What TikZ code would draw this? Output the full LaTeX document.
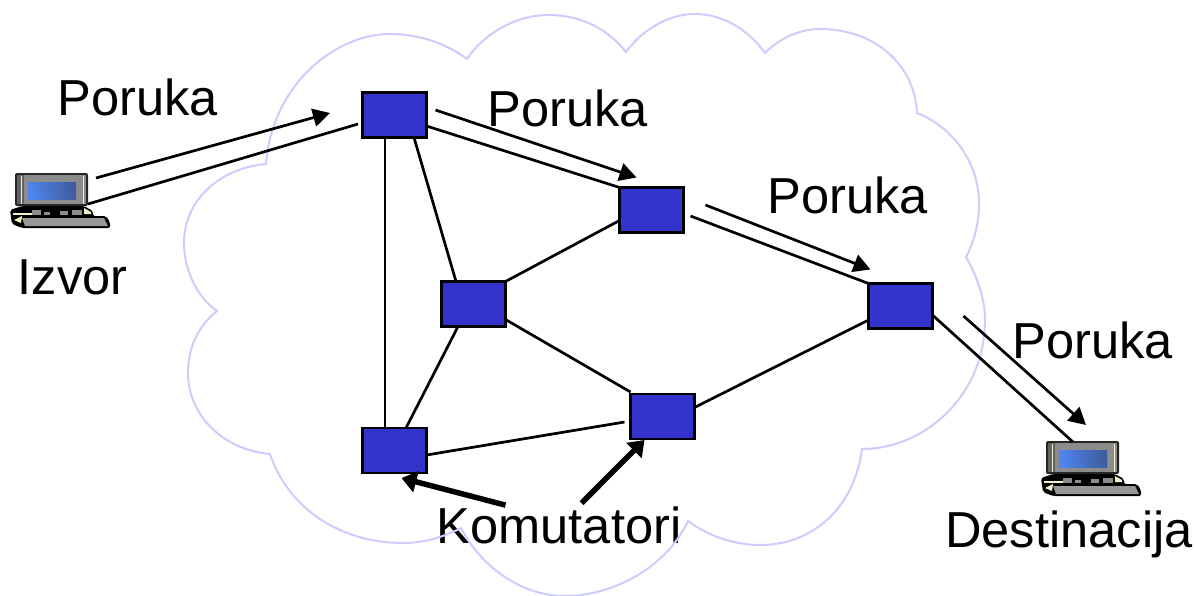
\documentclass[tikz,border=0pt]{standalone}
\usepackage{fontspec}
\setmainfont{Liberation Sans}
\usetikzlibrary{arrows.meta,calc}
\definecolor{swblue}{HTML}{3333CC}
\definecolor{cloudline}{HTML}{CCCCFF}
\definecolor{lapgray}{HTML}{8C8C8C}
\definecolor{lapcream}{HTML}{F5F2C8}
\definecolor{scrlight}{HTML}{4F86EE}
\definecolor{scrdark}{HTML}{3F5C9E}
\tikzset{
  switchbox/.style={draw=black,fill=swblue,line width=2.8pt,minimum width=64pt,minimum height=45pt,inner sep=0pt,outer sep=0pt},
  link/.style={draw=black,line width=2.7pt},
  msg/.style={draw=black,line width=2.7pt,-{Triangle[length=17pt,width=18pt]}},
  pointer/.style={draw=black,line width=5.5pt,-{Triangle[length=15pt,width=21pt]}},
  label/.style={inner sep=0pt,anchor=base west,font=\fontsize{50.6}{60}\selectfont},
  cloud/.style={draw=cloudline,line width=2pt,line join=miter},
  laptop/.pic={
    \fill[black!85,rounded corners=2pt] (15,173) rectangle (88,206);
    \fill[lapgray] (17,175) rectangle (86,204);
    \fill[lapgray!70!black] (17,175) rectangle (24,204);
    \draw[lapcream,line width=.9pt] (21,176) -- (21,204) (83,176) -- (83,204);
    \shade[left color=scrlight,right color=scrdark,shading angle=100] (28,182) rectangle (76,199);
    \fill[black,rounded corners=2pt] (10,210) -- (22,206) -- (84,206) -- (93,211) -- (93,216) -- (106,216) -- (110,222) -- (110,228) -- (22,228) -- (12,224) -- cycle;
    \fill[lapcream] (13,213) rectangle (32,215);
    \fill[lapcream] (14,220) -- (22,216) -- (21,223) -- cycle;
    \fill[lapcream] (84,208) -- (91,212) -- (91,214) -- (84,214) -- cycle;
    \fill[lapgray] (32,210) rectangle (41,215);
    \fill[lapgray] (44,212) rectangle (50,215);
    \fill[lapgray] (60,211) rectangle (68,215);
    \fill[lapgray] (72,210) rectangle (82,215);
    \fill[lapgray!90!white] (22,218) -- (104,218) -- (108,226) -- (25,226) -- cycle;
  }
}
\begin{document}
\begin{tikzpicture}[x=1pt,y=-1pt]
\useasboundingbox (0,0) rectangle (1195,595);
% label under the cloud
\node[label] (komut) at (436.5,543) {Komutatori};
% cloud
\draw[cloud] (266,164)
  .. controls (272,85) and (335,34) .. (390,34) .. controls (420,34) and (447,44) .. (467,59)
  .. controls (485,32) and (518,15) .. (548,15) .. controls (585,15) and (610,32) .. (626,52)
  .. controls (642,30) and (668,14) .. (695,14) .. controls (725,14) and (750,32) .. (765,53)
  .. controls (780,38) and (800,29) .. (820,29) .. controls (875,29) and (915,65) .. (917,113)
  .. controls (955,128) and (979,165) .. (979,203) .. controls (979,222) and (975,240) .. (966,257)
  .. controls (978,278) and (985,300) .. (985,320) .. controls (985,395) and (925,449) .. (862,449)
  .. controls (855,505) and (815,545) .. (760,545) .. controls (735,545) and (708,536) .. (688,521)
  .. controls (665,570) and (610,596) .. (565,596) .. controls (520,596) and (480,565) .. (461,528)
  .. controls (442,538) and (422,543) .. (403,543) .. controls (340,543) and (288,508) .. (270,454)
  .. controls (223,450) and (188,415) .. (188,373) .. controls (188,348) and (198,326) .. (217,311)
  .. controls (197,297) and (184,270) .. (184,243) .. controls (184,200) and (220,168) .. (266,164) -- cycle;
% switches
\node[switchbox] (s1) at (394.5,115) {};
\node[switchbox] (s2) at (651.5,210) {};
\node[switchbox] (s3) at (473.5,304) {};
\node[switchbox] (s4) at (394.5,450.5) {};
\node[switchbox] (s5) at (662.5,416.5) {};
\node[switchbox] (s6) at (900.5,306) {};
% laptops
\pic at (0,0) {laptop};
\pic at (1031,268) {laptop};
% free ends
\coordinate (srcA) at (96,178);
\coordinate (srcB) at (88,204);
\coordinate (dstA) at (1086,425);
\coordinate (dstB) at (1073,442);
% links
\draw[link] ($(s1.south)+(-9.5,0)$) -- ($(s4.north)+(-9.5,0)$);
\draw[link] ($(s1.south)+(19.5,0)$) -- ($(s3.north)+(-17.5,0)$);
\draw[link] (s3.north east) -- ($(s2.south west)+(0,-12)$);
\draw[link] ($(s3.south east)+(0,-7)$) -- ($(s5.north west)+(0,-2)$);
\draw[link] ($(s3.south)+(-15.5,0)$) -- ($(s4.north)+(11.5,0)$);
\draw[link] ($(s4.east)+(0,4.5)$) -- ($(s5.west)+(-6,5.5)$);
\draw[link] ($(s5.east)+(0,-9)$) -- ($(s6.west)+(0,14)$);
% message arrows
\draw[link] ($(s1.west)+(-4.5,9)$) -- (srcB);
\draw[msg] (srcA) -- ($(s1.west)+(-32.5,-2)$);
\draw[link] ($(s1.east)+(0,11)$) -- (s2.north west);
\draw[msg] ($(s1.east)+(9,-5)$) -- ($(s2.north west)+(17,-10)$);
\draw[link] ($(s2.east)+(7,6)$) -- (s6.north west);
\draw[msg] ($(s2.east)+(22,-5)$) -- ($(s6.north west)+(2,-14)$);
\draw[link] ($(s6.east)+(1,10)$) -- (dstB);
\draw[msg] ($(s6.east)+(31,10)$) -- (dstA);
% pointers
\draw[pointer] ($(komut.north west)+(69,-1)$) -- ($(s4.south)+(7,5)$);
\draw[pointer] ($(komut.north west)+(145,-3)$) -- ($(s5.south)+(-18,1)$);
% labels
\node[label] (m1) at (57.5,115) {Poruka};
\node[label] (m2) at (487.5,126) {Poruka};
\node[label] (m3) at (767.5,213) {Poruka};
\node[label] (m4) at (1012.5,358) {Poruka};
\node[label] (src) at (17.5,294) {Izvor};
\node[label] (dst) at (945,547) {Destinacija};
\end{tikzpicture}
\end{document}
